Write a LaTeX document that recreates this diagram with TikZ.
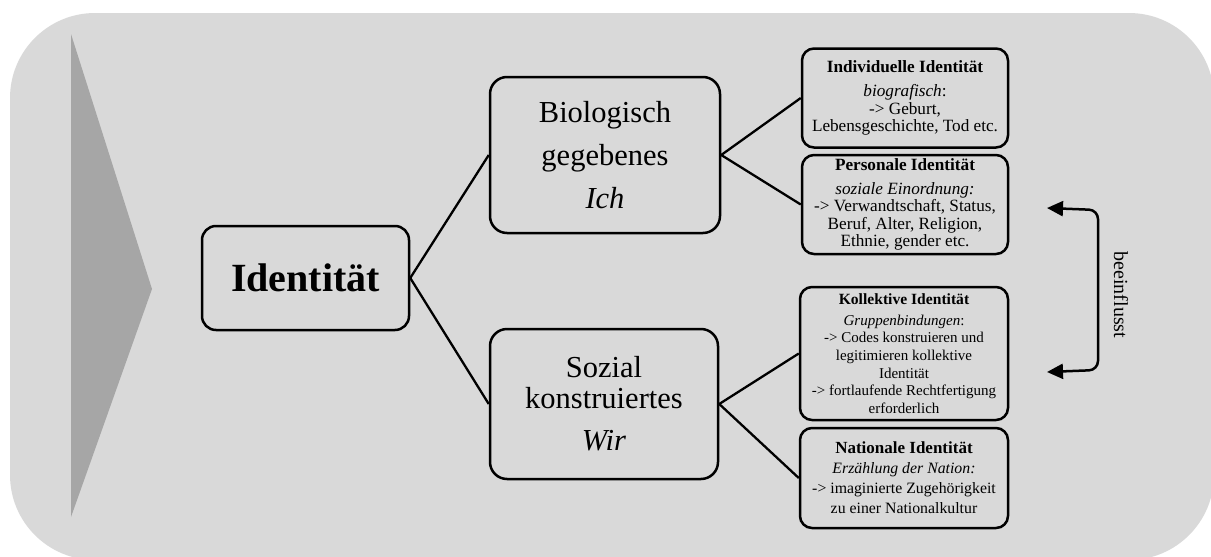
\documentclass[tikz,border=0pt]{standalone}
\usepackage{fontspec}
\setmainfont{Liberation Serif}
\usepackage{tikz}
\usetikzlibrary{arrows.meta}

\definecolor{bggray}{HTML}{D9D9D9}
\definecolor{trigray}{HTML}{A6A6A6}

\begin{document}
\begin{tikzpicture}[x=1pt,y=-1pt,>={Triangle[length=16pt,width=15pt]}]
% --- styles ---------------------------------------------------
\tikzstyle{bigbox}  =[draw,line width=2.5pt,rounded corners=14pt,align=center,inner sep=0pt]
\tikzstyle{midbox}  =[bigbox,rounded corners=17pt,font=\fontsize{30.5}{31}\selectfont]
\tikzstyle{infobox} =[bigbox,rounded corners=12pt,minimum width=206pt,font=\fontsize{17.2}{17.4}\selectfont]
\tikzstyle{branch}  =[line width=2.3pt]

% --- canvas ---------------------------------------------------
\useasboundingbox (0,0) rectangle (1211,557);
\clip (0,0) rectangle (1211,557);
\fill[bggray,rounded corners=85pt] (10,13) rectangle (1214,560);
\fill[trigray] (71,34) -- (152,289) -- (71,517) -- cycle;

% --- main node ------------------------------------------------
\node[bigbox,minimum width=207pt,minimum height=104pt,
      font=\fontsize{40}{44}\selectfont\bfseries] (ident) at (305.5,278) {Identität};

% --- second level ---------------------------------------------
\node[midbox,minimum width=230pt,minimum height=156pt] (bio) at (605,155)
  {Biologisch\\[12pt]gegebenes\\[12pt]\textit{Ich}};
\node[midbox,minimum width=228pt,minimum height=150pt] (sozial) at (604,404)
  {Sozial\\konstruiertes\\[11pt]\textit{Wir}};

% --- third level ----------------------------------------------
\node[infobox,minimum height=99pt] (indiv) at (905,98)
  {\textbf{Individuelle Identität}\\[6.5pt]\textit{biografisch}:\\-> Geburt,\\Lebensgeschichte, Tod etc.};
\node[infobox,minimum height=99pt] (person) at (905,204.5)
  {\textbf{Personale Identität}\\[6.5pt]\textit{soziale Einordnung:}\\-> Verwandtschaft, Status,\\Beruf, Alter, Religion,\\Ethnie, gender etc.};
\node[infobox,minimum width=208pt,minimum height=133pt,font=\fontsize{15}{17.6}\selectfont] (kollekt) at (904,353.5)
  {{\fontsize{15.6}{17.6}\selectfont\bfseries Kollektive Identität}\\[3.5pt]\textit{Gruppenbindungen}:\\-> Codes konstruieren und\\legitimieren kollektive\\Identität\\-> fortlaufende Rechtfertigung\\erforderlich};
\node[infobox,minimum width=208pt,minimum height=100pt,font=\fontsize{15.8}{20}\selectfont] (nation) at (904,478)
  {{\fontsize{17}{20}\selectfont\bfseries Nationale Identität}\\\textit{Erzählung der Nation:}\\-> imaginierte Zugehörigkeit\\zu einer Nationalkultur};

% --- branches -------------------------------------------------
\draw[branch] (bio.west) -- (ident.east) -- (sozial.west);
\draw[branch] (indiv.west) -- (bio.east) -- (person.west);
\draw[branch] (kollekt.west) -- (sozial.east) -- (nation.west);

% --- influence arrow ------------------------------------------
\coordinate (inflTop) at (1047,208);
\coordinate (inflBot) at (1047,372);
\draw[<->,line width=2.5pt,rounded corners=9pt] (inflTop) -- (1098,210) -- (1098,370) -- (inflBot);
\node[rotate=-90,font=\fontsize{20}{22}\selectfont] (infl) at (1121,295) {beeinflusst};

\end{tikzpicture}
\end{document}
